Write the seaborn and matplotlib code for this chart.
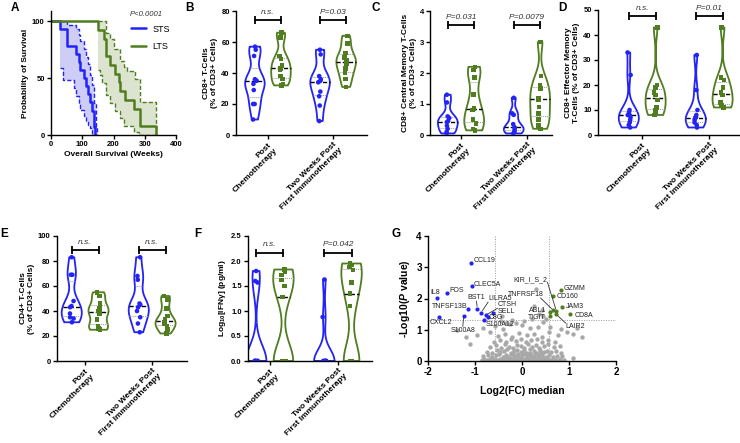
import numpy as np
import pandas as pd
import matplotlib
matplotlib.use("Agg")
import matplotlib.pyplot as plt
from matplotlib.lines import Line2D
from matplotlib.ticker import FormatStrFormatter
import seaborn as sns

sns.set_style("ticks")
plt.rcParams["font.family"] = ["Liberation Sans", "DejaVu Sans"]
plt.rcParams.update({
    "font.weight": "bold",
    "axes.labelweight": "bold",
    "axes.linewidth": 1.0,
    "axes.edgecolor": "black",
    "axes.labelcolor": "black",
    "text.color": "black",
    "xtick.color": "black",
    "ytick.color": "black",
    "xtick.major.width": 1.0,
    "ytick.major.width": 1.0,
    "xtick.major.size": 3,
    "ytick.major.size": 3,
    "xtick.major.pad": 1.5,
    "ytick.major.pad": 1.5,
    "axes.unicode_minus": False,
    "mathtext.fontset": "custom",
    "mathtext.rm": "Liberation Sans:bold",
    "mathtext.it": "Liberation Sans:italic:bold",
    "mathtext.bf": "Liberation Sans:bold",
})

BLUE = "#2323f5"
GREEN = "#4f7d1f"
BLUE_FILL = "#cdcdf6"
GREEN_FILL = "#dce4cf"
GREY = "#a8a8a8"

# ---------------- A: overall survival (Kaplan-Meier) ----------------
sts_t = [0, 28, 51, 81, 90, 94, 105, 113, 117, 124, 131, 137, 142]
sts_s = [100, 92.9, 78.6, 71.4, 64.3, 57.1, 50, 42.9, 35.7, 28.6, 21.4, 7.1, 0]
sts_band_t = [28, 38, 51, 75, 81, 90, 94, 105, 113, 117, 124, 131, 137, 143, 147]
sts_hi = [100, 100, 97, 97, 93, 88, 83, 76, 69, 62, 53, 44, 28, 7, 0]
sts_lo = [59, 48, 48, 41, 34, 28, 22, 17, 12, 9, 6, 0, 0, 0, 0]

lts_t = [0, 149, 169, 177, 190, 206, 217, 222, 238, 265, 286, 336]
lts_s = [100, 92.3, 84.6, 69.2, 61.5, 53.8, 46.2, 38.5, 30.8, 23.1, 7.7, 0]
lts_band_t = [149, 158, 163, 177, 179, 190, 200, 206, 222, 235, 243, 265, 270, 281, 286, 336]
lts_hi = [100, 100, 100, 90, 90, 84, 76, 76, 65, 60, 56, 56, 49, 49, 29, 0]
lts_lo = [57, 53, 46, 35, 35, 28, 28, 21, 15, 8, 8, 3, 3, 0, 0, 0]

# ---------------- B-F: violin data ----------------
TIMEPOINTS = ["Post\nChemotherapy", "Two Weeks Post\nFirst Immunotherapy"]
GROUPS = ["STS", "LTS"]

cd8_sts_post = [57, 55, 51, 36, 35, 35, 33, 29, 20, 20, 10]
cd8_lts_post = [66, 63, 51, 49, 45, 43, 42, 38, 36, 33, 32]
cd8_sts_2wk = [55, 52, 38, 36, 35, 34, 28, 25, 19, 9]
cd8_lts_2wk = [64, 59, 53, 50, 48, 46, 43, 40, 36, 31]

cm_sts_post = [1.3, 1.05, 0.6, 0.55, 0.45, 0.42, 0.3, 0.2, 0.1, 0.05]
cm_lts_post = [2.2, 2.1, 1.85, 1.3, 0.85, 0.8, 0.5, 0.38, 0.2, 0.15]
cm_sts_2wk = [1.2, 0.7, 0.65, 0.35, 0.25, 0.22, 0.15, 0.1, 0.05]
cm_lts_2wk = [3.0, 1.9, 1.6, 1.5, 1.2, 1.15, 0.9, 0.7, 0.5, 0.3, 0.2]

em_sts_post = [33, 24, 10, 9, 8, 8, 7, 6, 5, 4, 3]
em_lts_post = [43, 20, 19, 17, 16, 14, 11, 10, 9, 8]
em_sts_2wk = [32, 18, 10, 8, 7, 7, 6, 5, 4, 3]
em_lts_2wk = [43, 23, 22, 19, 17, 16, 13, 12, 11, 11]

cd4_sts_post = [83, 69, 69, 48, 44, 43, 38, 35, 34, 31]
cd4_lts_post = [55, 52, 46, 42, 40, 38, 33, 28, 26, 25]
cd4_sts_2wk = [83, 68, 65, 46, 45, 43, 40, 35, 30, 23]
cd4_lts_2wk = [52, 49, 42, 36, 33, 31, 30, 28, 25, 22]

ifn_sts_post = [1.8, 1.6, 1.57, 0, 0, 0, 0, 0, 0, 0, 0]
ifn_lts_post = [1.83, 1.78, 1.72, 1.62, 1.5, 1.28, 0, 0, 0, 0, 0]
ifn_sts_2wk = [1.63, 0.88, 0, 0, 0, 0, 0, 0, 0, 0]
ifn_lts_2wk = [1.95, 1.92, 1.88, 1.82, 1.57, 1.35, 1.1, 0, 0, 0, 0]

# ---------------- G: volcano ----------------
down_genes = ["CCL19", "CLEC5A", "FOS", "IL8", "BST1", "TNFSF13B", "LILRA5",
              "CTSH", "SELL", "C8G", "S100A12", "CXCL2", "S100A8"]
down_x = [-1.08, -1.07, -1.59, -1.81, -0.95, -1.14, -0.87, -0.77, -0.61, -0.73, -0.80, -1.77, -1.24]
down_y = [3.13, 2.39, 2.19, 2.03, 1.68, 1.68, 1.55, 1.47, 1.55, 1.42, 1.31, 1.42, 1.44]

up_genes = ["GZMM", "CD160", "JAM3", "CD8A", "KIR_I_S_2", "TNFRSF18", "ABL1", "TIGIT", "LAIR2"]
up_x = [0.82, 0.67, 0.85, 1.03, 0.73, 0.66, 0.59, 0.60, 0.73]
up_y = [2.26, 2.07, 1.72, 1.49, 1.61, 1.63, 1.58, 1.44, 1.49]

grey_x = [-0.86, -0.8, -0.74, -0.68, -0.62, -0.57, -0.52, -0.47, -0.42, -0.37, -0.32, -0.28, -0.24,
          -0.2, -0.16, -0.12, -0.08, -0.04, 0.0, 0.04, 0.08, 0.12, 0.16, 0.2, 0.24, 0.28, 0.32,
          0.36, 0.4, 0.45, 0.5, 0.55, 0.6, 0.66, 0.72, 0.8, 0.9, 1.09,
          -0.82, -0.72, -0.63, -0.55, -0.48, -0.41, -0.35, -0.29, -0.23, -0.17, -0.11, -0.05, 0.01,
          0.07, 0.13, 0.19, 0.25, 0.31, 0.37, 0.43, 0.5, 0.57, 0.65, 0.74, 0.85,
          -0.75, -0.64, -0.54, -0.46, -0.38, -0.31, -0.24, -0.17, -0.1, -0.03, 0.04, 0.11, 0.18,
          0.25, 0.32, 0.39, 0.46, 0.54, 0.62, 0.72, 0.83,
          -0.68, -0.56, -0.45, -0.36, -0.27, -0.19, -0.11, -0.03, 0.05, 0.13, 0.21, 0.29, 0.37,
          0.46, 0.56, 0.68, 0.8, -1.1,
          -0.6, -0.47, -0.35, -0.24, -0.13, -0.02, 0.09, 0.2, 0.31, 0.43, 0.56, 0.7,
          -1.19, -0.95, -0.68, -0.52, -0.37, -0.22, -0.06, 0.1, 0.26, 0.42, 0.58, 0.76, 0.95, 1.09, 1.27,
          -1.38, -0.83, -0.58, -0.4, -0.25, -0.01, 0.16, 0.35, 0.59, 0.82, 1.16,
          -0.45, -0.33, -0.22, -0.12, 0.05, 0.22, 0.45,
          -0.42, 0.25, 0.29, 0.36, 0.45, 0.42, 0.52,
          -0.26, -0.14, -0.02, 0.1, 0.22, 0.34, 0.46, -0.2, -0.08, 0.04, 0.16, 0.28, 0.4]
grey_y = [0.04, 0.07, 0.03, 0.06, 0.02, 0.08, 0.04, 0.06, 0.03, 0.07, 0.05, 0.02, 0.08,
          0.04, 0.06, 0.03, 0.07, 0.05, 0.02, 0.06, 0.04, 0.08, 0.03, 0.05, 0.07, 0.02, 0.06,
          0.04, 0.08, 0.03, 0.05, 0.07, 0.04, 0.06, 0.03, 0.05, 0.04, 0.1,
          0.15, 0.2, 0.13, 0.18, 0.22, 0.14, 0.19, 0.12, 0.21, 0.16, 0.2, 0.13, 0.18,
          0.22, 0.15, 0.19, 0.12, 0.21, 0.16, 0.2, 0.14, 0.18, 0.13, 0.17, 0.15,
          0.3, 0.26, 0.35, 0.28, 0.33, 0.37, 0.27, 0.32, 0.36, 0.29, 0.34, 0.26, 0.38,
          0.31, 0.27, 0.35, 0.3, 0.33, 0.28, 0.32, 0.27,
          0.45, 0.5, 0.42, 0.53, 0.46, 0.41, 0.52, 0.47, 0.43, 0.55, 0.44, 0.5, 0.42,
          0.48, 0.53, 0.45, 0.49, 0.54,
          0.62, 0.68, 0.6, 0.71, 0.64, 0.69, 0.6, 0.66, 0.72, 0.62, 0.67, 0.6,
          0.76, 0.83, 0.94, 0.8, 0.88, 0.77, 0.91, 0.82, 0.86, 0.78, 0.92, 0.84, 0.94, 0.88, 0.78,
          0.99, 1.05, 1.12, 1.02, 1.18, 1.15, 1.06, 1.1, 1.1, 1.03, 1.05,
          1.28, 1.21, 1.31, 1.23, 1.27, 1.33, 1.25,
          1.45, 1.76, 2.29, 1.5, 1.45, 1.62, 1.36,
          0.1, 0.11, 0.1, 0.12, 0.1, 0.11, 0.1, 0.25, 0.24, 0.26, 0.25, 0.24, 0.26]

W, H = 740, 443
fig = plt.figure(figsize=(W / 100, H / 100), dpi=100)
np.random.seed(3)


def add_ax(l, t, r, b):
    return fig.add_axes([l / W, 1 - b / H, (r - l) / W, (b - t) / H])


def to_frame(sts_post, lts_post, sts_2wk, lts_2wk):
    parts = []
    for vals, grp, tp in [(sts_post, "STS", TIMEPOINTS[0]), (lts_post, "LTS", TIMEPOINTS[0]),
                          (sts_2wk, "STS", TIMEPOINTS[1]), (lts_2wk, "LTS", TIMEPOINTS[1])]:
        parts.append(pd.DataFrame({"time": tp, "group": grp, "value": vals}))
    return pd.concat(parts, ignore_index=True)


def violin_panel(ax, df, ylim, yticks, ylabel, pvals, bracket_y, xlim, fmt=None):
    n0 = len(ax.lines)
    sns.violinplot(data=df, x="time", y="value", hue="group", order=TIMEPOINTS,
                   hue_order=GROUPS, palette=[BLUE, GREEN], fill=False, cut=0,
                   inner="quart", density_norm="width", width=0.8, gap=0.25,
                   bw_adjust=0.65, linewidth=1.3, legend=False, ax=ax)
    # median black dashed, quartiles light dotted
    for i, ln in enumerate(ax.lines[n0:]):
        if i % 3 == 1:
            ln.set_color("black")
            ln.set_linestyle((0, (3, 1.5)))
            ln.set_linewidth(1.0)
        else:
            ln.set_color("#9a9a9a")
            ln.set_linestyle((0, (1, 1)))
            ln.set_linewidth(0.7)
    for grp, mk in [("STS", "o"), ("LTS", "s")]:
        sns.stripplot(data=df[df.group == grp], x="time", y="value", hue="group",
                      order=TIMEPOINTS, hue_order=GROUPS, palette=[BLUE, GREEN],
                      dodge=True, jitter=0.06, marker=mk, size=3.3, linewidth=0,
                      legend=False, ax=ax, zorder=4)
    for i, p in enumerate(pvals):
        ax.plot([i - 0.2, i + 0.2], [bracket_y, bracket_y], color="black", lw=1.3,
                marker="|", markersize=6, mew=1.3, clip_on=False)
        ax.annotate(p, (i, bracket_y), xytext=(0, 3), textcoords="offset points",
                    ha="center", va="bottom", fontsize=6, style="italic",
                    fontweight="normal", color="#333333")
    ax.set_xlim(*xlim)
    ax.set_ylim(*ylim)
    ax.set_yticks(yticks)
    if fmt:
        ax.yaxis.set_major_formatter(FormatStrFormatter(fmt))
    ax.set_xticks([0, 1])
    ax.set_xticklabels(TIMEPOINTS, rotation=45, ha="right", va="top",
                       rotation_mode="anchor", ma="right", fontsize=6)
    ax.tick_params(axis="y", labelsize=5.5)
    ax.set_xlabel("")
    ax.set_ylabel(ylabel, fontsize=6, labelpad=2)
    sns.despine(ax=ax)


# ---- A
axA = add_ax(51, 11, 176, 135)
for bt, lo, hi, col, fc in [(sts_band_t, sts_lo, sts_hi, BLUE, BLUE_FILL),
                            (lts_band_t, lts_lo, lts_hi, GREEN, GREEN_FILL)]:
    axA.fill_between(bt, lo, hi, step="post", color=fc, lw=0)
    axA.step(bt, hi, where="post", color=col, ls=(0, (3, 1.5)), lw=1.0)
    axA.step(bt, lo, where="post", color=col, ls=(0, (3, 1.5)), lw=1.0)
sns.lineplot(x=sts_t, y=sts_s, drawstyle="steps-post", color=BLUE, lw=1.8, ax=axA)
sns.lineplot(x=lts_t, y=lts_s, drawstyle="steps-post", color=GREEN, lw=1.8, ax=axA)
axA.set_xlim(0, 400)
axA.set_ylim(0, 109)
axA.set_xticks([0, 100, 200, 300, 400])
axA.set_yticks([0, 50, 100])
axA.tick_params(labelsize=5.5)
axA.set_xlabel("Overall Survival (Weeks)", fontsize=6, labelpad=2)
axA.set_ylabel("Probability of Survival", fontsize=6, labelpad=2)
axA.text(253, 106, "P<0.0001", fontsize=5.5, style="italic", fontweight="normal",
         color="#333333", va="center")
axA.legend(handles=[Line2D([], [], color=BLUE, lw=1.8, label="STS"),
                    Line2D([], [], color=GREEN, lw=1.8, label="LTS")],
           loc="upper left", bbox_to_anchor=(0.64, 0.89), frameon=False,
           prop={"size": 6.5, "weight": "normal"}, handlelength=1.7,
           handletextpad=0.7, labelspacing=0.9, borderpad=0, borderaxespad=0)
sns.despine(ax=axA)

# ---- B-F
violin_panel(add_ax(236, 11, 367, 135), to_frame(cd8_sts_post, cd8_lts_post, cd8_sts_2wk, cd8_lts_2wk),
             (0, 80), [0, 20, 40, 60, 80], "CD8+ T-Cells\n(% of CD3+ Cells)",
             ["n.s.", "P=0.03"], 74, (-0.49, 1.52))
violin_panel(add_ax(430, 11, 552, 135), to_frame(cm_sts_post, cm_lts_post, cm_sts_2wk, cm_lts_2wk),
             (0, 4), [0, 1, 2, 3, 4], "CD8+ Central Memory T-Cells\n(% of CD3+ Cells)",
             ["P=0.031", "P=0.0079"], 3.54, (-0.47, 1.38))
violin_panel(add_ax(598, 10, 740, 135), to_frame(em_sts_post, em_lts_post, em_sts_2wk, em_lts_2wk),
             (0, 50), [0, 10, 20, 30, 40, 50], "CD8+ Effector Memory\nT-Cells (% of CD3+ Cells)",
             ["n.s.", "P=0.01"], 47.5, (-0.66, 1.46))
violin_panel(add_ax(57, 236, 187, 361), to_frame(cd4_sts_post, cd4_lts_post, cd4_sts_2wk, cd4_lts_2wk),
             (0, 100), [0, 20, 40, 60, 80, 100], "CD4+ T-Cells\n(% of CD3+ Cells)",
             ["n.s.", "n.s."], 89, (-0.42, 1.52))
violin_panel(add_ax(248, 236, 372, 361), to_frame(ifn_sts_post, ifn_lts_post, ifn_sts_2wk, ifn_lts_2wk),
             (0, 2.5), [0, 0.5, 1.0, 1.5, 2.0, 2.5], r"Log$_{10}$[IFNγ] (pg/ml)",
             ["n.s.", "P=0.042"], 2.17, (-0.32, 1.5), fmt="%.1f")

# ---- G
axG = add_ax(428, 236, 616, 361)
for v in (-0.585, 0.585):
    axG.axvline(v, color="#9a9a9a", ls=(0, (1, 1.5)), lw=0.7, zorder=0)
axG.axhline(1.301, color="#9a9a9a", ls=(0, (1, 1.5)), lw=0.7, zorder=0)
sns.scatterplot(x=grey_x, y=grey_y, color=GREY, s=10, linewidth=0, ax=axG)
sns.scatterplot(x=down_x, y=down_y, color=BLUE, s=9, linewidth=0, ax=axG)
sns.scatterplot(x=up_x, y=up_y, color=GREEN, s=9, linewidth=0, ax=axG)

label_pos = {
    "CCL19": (-1.03, 3.23, "left", None),
    "CLEC5A": (-1.02, 2.46, "left", None),
    "FOS": (-1.54, 2.27, "left", None),
    "IL8": (-1.94, 2.18, "left", None),
    "BST1": (-0.97, 2.03, "center", (0.5, 0)),
    "TNFSF13B": (-1.16, 1.76, "right", None),
    "LILRA5": (-0.72, 2.0, "left", (0, 0)),
    "CTSH": (-0.52, 1.80, "left", (0, 0)),
    "SELL": (-0.52, 1.57, "left", None),
    "C8G": (-0.70, 1.38, "left", None),
    "S100A12": (-0.77, 1.16, "left", None),
    "CXCL2": (-1.96, 1.22, "left", None),
    "S100A8": (-1.26, 0.99, "center", (0.5, 1)),
    "GZMM": (0.88, 2.31, "left", None),
    "CD160": (0.74, 2.07, "left", None),
    "JAM3": (0.93, 1.74, "left", None),
    "CD8A": (1.12, 1.46, "left", None),
    "KIR_I_S_2": (0.54, 2.59, "right", (1, 0.2)),
    "TNFRSF18": (0.47, 2.13, "right", (0.9, 0)),
    "ABL1": (0.51, 1.60, "right", None),
    "TIGIT": (0.51, 1.40, "right", None),
    "LAIR2": (0.93, 1.10, "left", (0, 1)),
}
points = dict(zip(down_genes + up_genes, zip(down_x + up_x, down_y + up_y)))
for gene, (tx, ty, ha, rel) in label_pos.items():
    kw = dict(ha=ha, va="center", fontsize=5, fontweight="normal", color="#222222")
    if rel is None:
        axG.text(tx, ty, gene, **kw)
    else:
        axG.annotate(gene, points[gene], xytext=(tx, ty), textcoords="data",
                     arrowprops=dict(arrowstyle="-", color="#333333", lw=0.6, relpos=rel,
                                     patchA=None, shrinkA=0, shrinkB=1.5), **kw)
axG.set_xlim(-2, 2)
axG.set_ylim(0, 4)
axG.set_xticks([-2, -1, 0, 1, 2])
axG.set_yticks([0, 1, 2, 3, 4])
axG.tick_params(labelsize=7)
axG.set_xlabel("Log2(FC) median", fontsize=7.5, labelpad=6)
axG.set_ylabel(r"-Log10($\it{P}$ value)", fontsize=7.5, labelpad=3)
sns.despine(ax=axG)

# panel letters
for letter, (px, py) in {"A": (11, 2), "B": (185, 2), "C": (372, 2), "D": (558, 2),
                         "E": (0, 228), "F": (194, 228), "G": (391, 228)}.items():
    fig.text(px / W, 1 - py / H, letter, fontsize=8.5, fontweight="bold", va="top", ha="left")

fig.savefig("out.png", dpi=100)
